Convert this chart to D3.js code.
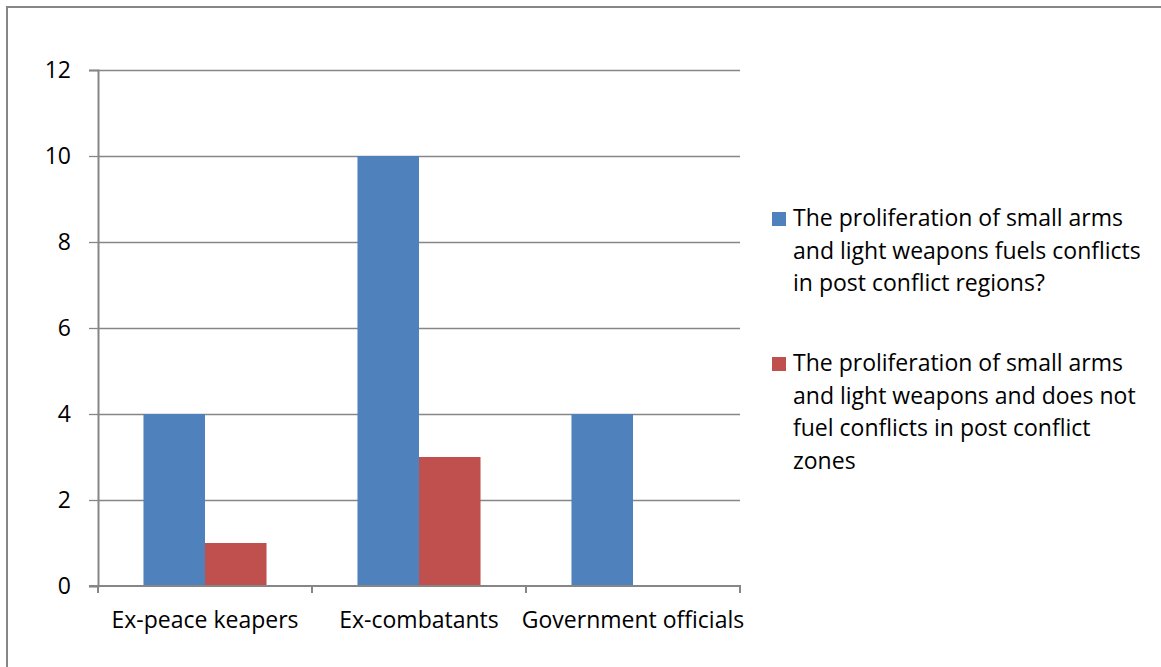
<!DOCTYPE html>
<html>
<head>
<meta charset="utf-8">
<script src="https://cdn.jsdelivr.net/npm/d3@7"></script>
<style>
  html, body { margin: 0; padding: 0; background: #ffffff; }
  svg { display: block; }
  text { font-family: "Open Sans", Lato, sans-serif; fill: #000; }
</style>
</head>
<body>
<svg id="chart" width="1161" height="667"></svg>
<script>
// Survey responses by respondent group
const categories = ["Ex-peace keapers", "Ex-combatants", "Government officials"];
const seriesNames = [
  "The proliferation of small arms and light weapons fuels conflicts in post conflict regions?",
  "The proliferation of small arms and light weapons and does not fuel conflicts in post conflict zones"
];
const fuelsValues = [4, 10, 4];
const doesNotFuelValues = [1, 3, 0];
const yTicks = [0, 2, 4, 6, 8, 10, 12];
const legendLines = [
  ["The proliferation of small arms", "and light weapons fuels conflicts", "in post conflict regions?"],
  ["The proliferation of small arms", "and light weapons and does not", "fuel conflicts in post conflict", "zones"]
];
const colors = ["#4F81BD", "#C0504D"];

const svg = d3.select("#chart");
const gridColor = "#868686";
const fontFamily = "'Open Sans', Lato, sans-serif";
const fontSize = 23;

// Outer chart frame (runs past the right and bottom edges)
svg.append("rect")
  .attr("x", 7).attr("y", 7)
  .attr("width", 1180).attr("height", 700)
  .attr("fill", "none").attr("stroke", gridColor).attr("stroke-width", 2);

const plot = { left: 98, right: 740, top: 70, bottom: 586 };

const y = d3.scaleLinear().domain([0, 12]).range([plot.bottom, plot.top]);
const x0 = d3.scaleBand().domain(categories).range([plot.left, plot.right]).padding(0);
const gap = x0.bandwidth() * 0.2125;
const x1 = d3.scaleBand().domain([0, 1]).range([gap, x0.bandwidth() - gap]).padding(0);

// Horizontal gridlines
svg.append("g")
  .selectAll("line")
  .data(yTicks.filter(t => t > 0))
  .join("line")
  .attr("x1", plot.left).attr("x2", plot.right)
  .attr("y1", d => Math.round(y(d)) + 0.5).attr("y2", d => Math.round(y(d)) + 0.5)
  .attr("stroke", gridColor).attr("stroke-width", 1.3);

// Bars
const rows = categories.map((c, i) => ({ cat: c, vals: [fuelsValues[i], doesNotFuelValues[i]] }));
svg.append("g")
  .selectAll("g")
  .data(rows)
  .join("g")
  .attr("transform", d => `translate(${x0(d.cat)},0)`)
  .selectAll("rect")
  .data(d => d.vals.map((v, s) => ({ v, s })))
  .join("rect")
  .attr("x", d => x1(d.s))
  .attr("width", x1.bandwidth())
  .attr("y", d => y(d.v))
  .attr("height", d => y(0) - y(d.v))
  .attr("fill", d => colors[d.s]);

// Y axis
const yAxis = svg.append("g")
  .attr("transform", `translate(${plot.left},0)`)
  .call(d3.axisLeft(y).tickValues(yTicks).tickSize(9).tickPadding(18).tickFormat(d3.format("d")));
yAxis.select(".domain").attr("stroke", gridColor).attr("stroke-width", 2);
yAxis.selectAll(".tick line").attr("stroke", gridColor).attr("stroke-width", 1.3);
yAxis.selectAll(".tick text")
  .style("font-family", fontFamily)
  .attr("font-size", fontSize).attr("fill", "#000");

// X axis with category boundary ticks
const xAxisG = svg.append("g").attr("transform", `translate(0,${plot.bottom})`);
xAxisG.append("line")
  .attr("x1", plot.left - 9).attr("x2", plot.right + 1)
  .attr("y1", 0).attr("y2", 0)
  .attr("stroke", gridColor).attr("stroke-width", 2);
const boundaries = categories.map(c => x0(c)).concat([x0(categories[categories.length - 1]) + x0.bandwidth()]);
xAxisG.selectAll("line.bt")
  .data(boundaries)
  .join("line")
  .attr("class", "bt")
  .attr("x1", d => d).attr("x2", d => d)
  .attr("y1", 0).attr("y2", 7)
  .attr("stroke", gridColor).attr("stroke-width", 2);
xAxisG.selectAll("text")
  .data(categories)
  .join("text")
  .attr("x", d => x0(d) + x0.bandwidth() / 2)
  .attr("y", 42)
  .attr("text-anchor", "middle")
  .attr("font-size", fontSize)
  .text(d => d);

// Legend
const legend = svg.append("g");
const legendTop = [226, 371];
legendLines.forEach((lines, i) => {
  const g = legend.append("g");
  g.append("rect")
    .attr("x", 772).attr("y", legendTop[i] - 14)
    .attr("width", 14).attr("height", 14)
    .attr("fill", colors[i]);
  g.selectAll("text")
    .data(lines)
    .join("text")
    .attr("x", 793)
    .attr("y", (d, k) => legendTop[i] + k * 32.5)
    .attr("font-size", fontSize)
    .text(d => d);
});
</script>
</body>
</html>
